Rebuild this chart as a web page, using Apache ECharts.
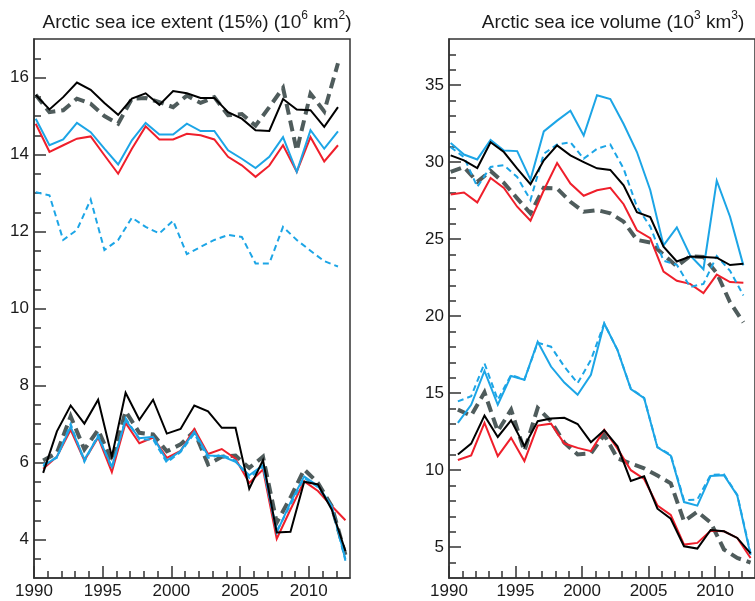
<!DOCTYPE html>
<html>
<head>
<meta charset="utf-8">
<script src="https://cdn.jsdelivr.net/npm/echarts@6/dist/echarts.min.js"></script>
<style>
html,body{margin:0;padding:0;background:#fff;}
#c{width:755px;height:601px;}
</style>
</head>
<body>
<div id="c"></div>
<script>
// ---- data (1990..2012) ----
const years = [1990,1991,1992,1993,1994,1995,1996,1997,1998,1999,2000,2001,2002,2003,2004,2005,2006,2007,2008,2009,2010,2011,2012];
const marchPos = 0.125;   // position of the winter value within its year
const septPos = 0.667;    // position of the September value within its year

// Extent (10^6 km^2)
const extBlackMar = [15.55,15.17,15.49,15.87,15.68,15.34,15.03,15.45,15.59,15.29,15.65,15.59,15.47,15.47,15.1,14.93,14.63,14.61,15.44,15.17,15.15,14.72,15.23];
const extGreyMar  = [15.55,15.1,15.15,15.45,15.32,15.0,14.8,15.45,15.47,15.36,15.23,15.53,15.34,15.49,15.02,15.05,14.75,15.23,15.73,14.1,15.58,15.12,16.37];
const extBlueMar  = [14.93,14.24,14.39,14.82,14.58,14.15,13.74,14.37,14.82,14.52,14.52,14.8,14.61,14.61,14.11,13.89,13.65,13.94,14.45,13.55,14.63,14.15,14.6];
const extRedMar   = [14.8,14.07,14.24,14.41,14.47,13.98,13.5,14.15,14.73,14.39,14.39,14.54,14.5,14.39,13.94,13.72,13.42,13.71,14.24,13.55,14.45,13.82,14.24];
const extBlueDashMar = [13.02,12.94,11.78,12.04,12.83,11.52,11.78,12.36,12.12,11.95,12.28,11.41,11.6,11.78,11.91,11.86,11.17,11.17,12.12,11.78,11.5,11.23,11.09];

const extBlackSep = [5.73,6.81,7.48,7.01,7.63,6.15,7.81,7.11,7.63,6.75,6.87,7.48,7.33,6.9,6.9,5.32,6.06,4.18,4.2,5.5,5.43,4.78,3.7];
const extRedSep   = [5.84,6.15,6.85,6.05,6.65,5.75,7.03,6.5,6.65,6.12,6.3,6.87,6.22,6.35,6.1,5.47,5.82,4.02,4.78,5.51,5.26,4.87,4.5];
const extBlueSep  = [5.9,6.15,6.93,6.08,6.67,5.89,7.1,6.63,6.67,6.05,6.3,6.8,6.18,6.17,6.02,5.67,5.93,4.18,4.96,5.64,5.39,4.87,3.49];
const extGreySep  = [6.05,6.25,7.2,6.34,6.85,6.03,7.33,6.77,6.73,6.29,6.47,6.81,5.95,6.15,6.18,5.86,6.15,4.44,5.09,5.82,5.47,4.87,3.6];
const extBlueDashSep = [5.95,6.12,7.0,6.02,6.72,5.85,7.15,6.6,6.6,6.0,6.27,6.75,6.12,6.2,6.05,5.6,5.9,4.22,4.9,5.6,5.36,4.85,3.45];

// Volume (10^3 km^3)
const volBlueMar  = [31.24,30.5,30.18,31.45,30.76,30.72,28.87,32.0,32.7,33.34,31.73,34.35,34.1,32.48,30.66,28.2,24.6,25.77,23.95,23.05,28.8,26.46,23.3];
const volBlackMar = [30.44,30.12,29.62,31.3,30.66,29.58,28.57,30.12,31.09,30.44,30.01,29.6,29.5,28.5,26.76,26.44,24.52,23.55,23.88,23.84,23.8,23.32,23.4];
const volBlueDashMar = [30.98,30.33,28.4,29.69,29.8,29.04,27.54,30.55,31.15,31.3,30.23,30.87,31.15,29.58,27.11,25.82,23.6,23.34,21.9,22.1,23.9,22.95,21.35];
const volRedMar   = [27.9,28.03,27.39,28.98,28.33,27.11,26.2,28.18,29.95,28.61,27.82,28.18,28.34,27.27,25.58,25.07,22.9,22.3,22.1,21.5,22.7,22.22,22.17];
const volGreyMar  = [29.37,29.69,28.72,29.43,28.66,27.65,26.68,28.33,28.29,27.43,26.78,26.89,26.68,26.14,24.96,24.78,23.99,23.24,23.9,23.85,22.8,20.9,19.6];

const volBlueSep  = [13.07,14.25,16.45,14.25,16.12,15.87,18.34,16.73,15.69,14.9,16.19,19.53,17.8,15.26,14.68,11.48,10.95,7.93,7.7,9.63,9.68,8.36,4.5];
const volBlueDashSep = [14.47,14.8,16.94,14.57,16.19,15.87,18.28,18.02,16.73,15.65,17.16,19.53,17.8,15.3,14.7,11.5,11.0,8.05,8.1,9.69,9.73,8.4,4.6];
const volBlackSep = [11.02,11.73,13.54,12.16,13.24,11.56,13.18,13.35,13.4,13.0,11.82,12.6,11.55,9.3,9.6,7.5,6.85,5.06,4.91,6.12,6.03,5.6,4.6];
const volRedSep   = [10.66,10.96,13.07,10.91,12.1,10.59,12.9,13.02,11.73,11.45,11.24,12.62,11.4,10.0,9.43,7.71,7.1,5.17,5.28,6.07,6.03,5.6,4.3];
const volGreySep  = [13.93,13.54,15.05,12.53,13.93,11.24,14.04,13.18,11.78,11.02,11.09,12.3,10.76,10.44,10.12,9.65,9.15,6.68,7.3,6.6,4.85,4.3,4.0];

// ---- ticks ----
const xLabelYears = [1990,1995,2000,2005,2010];
const xMinorYears = [1991,1992,1993,1994,1996,1997,1998,1999,2001,2002,2003,2004,2006,2007,2008,2009,2011,2012];
const extMajor = [4,6,8,10,12,14,16];
const extMinor = [3.5,4.5,5,5.5,6.5,7,7.5,8.5,9,9.5,10.5,11,11.5,12.5,13,13.5,14.5,15,15.5,16.5];
const volMajor = [5,10,15,20,25,30,35];
const volMinor = [4,6,7,8,9,11,12,13,14,16,17,18,19,21,22,23,24,26,27,28,29,31,32,33,34,36,37];

// ---- styling ----
const FONT = "'Liberation Sans', Arial, Helvetica, sans-serif";
const TXT = '#1a1a1a';
const AX = '#333333';
const BLACK = '#000000', GREY = '#4f5c5c', BLUE = '#1ca5e6', RED = '#ef1f2b';

function pts(vals, pos) { return vals.map((v, i) => [years[i] + pos, v]); }

function xAxes(grid) {
  return [
    { gridIndex: grid, type: 'value', min: 1990, max: 2013, position: 'bottom',
      axisLine: { show: true, lineStyle: { color: AX, width: 1.5 } },
      axisTick: { show: true, inside: true, length: 12, customValues: xLabelYears, lineStyle: { color: AX, width: 1.5 } },
      axisLabel: { show: true, customValues: xLabelYears, margin: 5, fontSize: 17, fontFamily: FONT, color: TXT, formatter: v => String(v) },
      splitLine: { show: false } },
    { gridIndex: grid, type: 'value', min: 1990, max: 2013, position: 'bottom',
      axisLine: { show: false },
      axisTick: { show: true, inside: true, length: 7, customValues: xMinorYears, lineStyle: { color: AX, width: 1.5 } },
      axisLabel: { show: false }, splitLine: { show: false } }
  ];
}
function yAxes(grid, min, max, major, minor) {
  return [
    { gridIndex: grid, type: 'value', min: min, max: max, position: 'left',
      axisLine: { show: true, lineStyle: { color: AX, width: 1.5 } },
      axisTick: { show: true, inside: true, length: 12, customValues: major, lineStyle: { color: AX, width: 1.5 } },
      axisLabel: { show: true, customValues: major, margin: 5, fontSize: 17, fontFamily: FONT, color: TXT },
      splitLine: { show: false } },
    { gridIndex: grid, type: 'value', min: min, max: max, position: 'left',
      axisLine: { show: false },
      axisTick: { show: true, inside: true, length: 7, customValues: minor, lineStyle: { color: AX, width: 1.5 } },
      axisLabel: { show: false }, splitLine: { show: false } }
  ];
}

function line(data, color, width, type, xi, z) {
  return { type: 'line', data: data, xAxisIndex: xi, yAxisIndex: xi, showSymbol: false, symbol: 'none',
    silent: true, animation: false, z: z,
    lineStyle: { color: color, width: width, type: type, cap: 'butt', join: 'miter' } };
}
const GREY_DASH = [11, 6];
const BLUE_DASH = [6, 4];

const series = [];
function group(xi, grey, red, blue, blueDash, black, pos) {
  series.push(line(pts(grey, pos), GREY, 4, GREY_DASH, xi, 2));
  series.push(line(pts(red, pos), RED, 2, 'solid', xi, 3));
  series.push(line(pts(blue, pos), BLUE, 2, 'solid', xi, 4));
  series.push(line(pts(blueDash, pos), BLUE, 2, BLUE_DASH, xi, 5));
  series.push(line(pts(black, pos), BLACK, 2, 'solid', xi, 6));
}
group(0, extGreyMar, extRedMar, extBlueMar, extBlueDashMar, extBlackMar, marchPos);
group(0, extGreySep, extRedSep, extBlueSep, extBlueDashSep, extBlackSep, septPos);
group(2, volGreyMar, volRedMar, volBlueMar, volBlueDashMar, volBlackMar, marchPos);
group(2, volGreySep, volRedSep, volBlueSep, volBlueDashSep, volBlackSep, septPos);

const rich = {
  a: { fontSize: 19, fontFamily: FONT, fontWeight: 'normal', color: TXT, lineHeight: 22, verticalAlign: 'bottom' },
  s: { fontSize: 12, fontFamily: FONT, fontWeight: 'normal', color: TXT, lineHeight: 22, verticalAlign: 'top' }
};

const option = {
  backgroundColor: '#ffffff',
  animation: false,
  title: [
    { text: '{a|Arctic sea ice extent (15%) (10}{s|6}{a| km}{s|2}{a|)}', left: 192, top: 5, textAlign: 'center',
      textStyle: { fontWeight: 'normal', rich: rich } },
    { text: '{a|Arctic sea ice volume (10}{s|3}{a| km}{s|3}{a|)}', left: 608, top: 5, textAlign: 'center',
      textStyle: { fontWeight: 'normal', rich: rich } }
  ],
  grid: [
    { left: 34, top: 39, width: 316, height: 539, show: true, borderColor: AX, borderWidth: 1.5, backgroundColor: 'transparent' },
    { left: 449, top: 39, width: 317, height: 539, show: true, borderColor: AX, borderWidth: 1.5, backgroundColor: 'transparent' }
  ],
  xAxis: xAxes(0).concat(xAxes(1)),
  yAxis: yAxes(0, 3, 17, extMajor, extMinor).concat(yAxes(1, 3, 38, volMajor, volMinor)),
  series: series
};

const chart = echarts.init(document.getElementById('c'), null, { renderer: 'canvas' });
chart.setOption(option);
</script>
</body>
</html>
